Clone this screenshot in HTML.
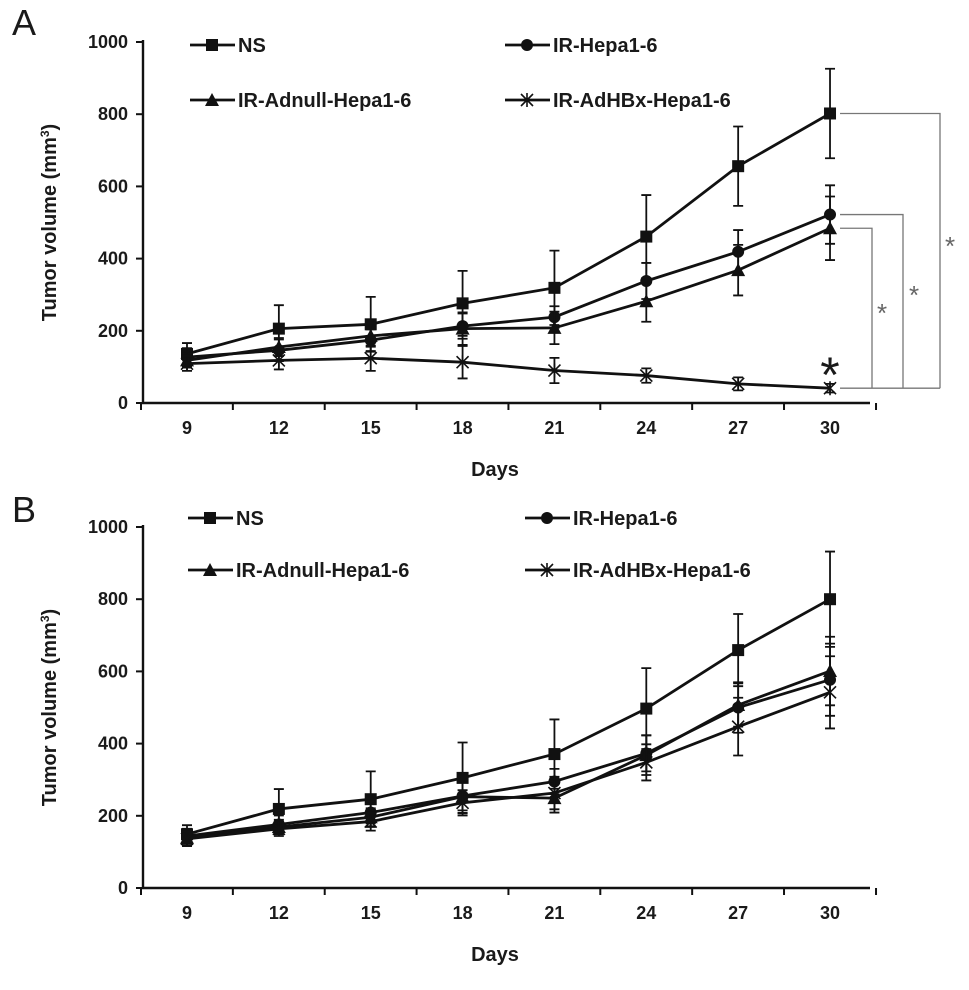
<!DOCTYPE html>
<html><head><meta charset="utf-8"><style>
body{margin:0;background:#fff;}
svg text{font-family:"Liberation Sans",sans-serif;font-weight:bold;fill:#1a1a1a;}
</style></head><body>
<svg id="c" width="969" height="985" xmlns="http://www.w3.org/2000/svg"></svg>
<script>
const days=[9,12,15,18,21,24,27,30];
const yTicks=[0,200,400,600,800,1000];
const seriesNames=["NS","IR-Hepa1-6","IR-Adnull-Hepa1-6","IR-AdHBx-Hepa1-6"];
const markers=["square","circle","triangle","star"];
const aNS=[136,206,218,276,319,461,656,802];
const aNSerr=[30,65,76,90,103,115,110,124];
const aHepa=[127,146,174,213,238,338,419,522];
const aHepaErr=[25,30,30,35,30,50,60,81];
const aAdnull=[118,155,186,206,208,282,368,484];
const aAdnullErr=[20,25,30,45,45,57,70,88];
const aHBx=[109,118,124,113,90,76,53,41];
const aHBxErr=[20,25,35,45,35,20,18,12];
const bNS=[149,219,246,305,371,497,659,800];
const bNSerr=[25,55,77,98,96,112,100,132];
const bHepa=[144,176,209,255,295,373,500,577];
const bHepaErr=[20,25,30,40,35,50,70,100];
const bAdnull=[139,169,196,253,249,368,507,601];
const bAdnullErr=[20,20,25,45,40,55,60,95];
const bHBx=[136,164,184,236,263,348,447,542];
const bHBxErr=[20,20,25,35,45,50,80,100];

const svg=document.getElementById('c');
const NS='http://www.w3.org/2000/svg';
function el(t,a,p){const e=document.createElementNS(NS,t);for(const k in a)e.setAttribute(k,a[k]);(p||svg).appendChild(e);return e;}
function marker(g,type,x,y,s){
  let m;
  if(type==="square") m=el('rect',{x:x-s,y:y-s,width:2*s,height:2*s,fill:'#111'},g);
  else if(type==="circle") m=el('circle',{cx:x,cy:y,r:s,fill:'#111'},g);
  else if(type==="triangle") m=el('polygon',{points:`${x},${y-s-1} ${x-s-1},${y+s} ${x+s+1},${y+s}`,fill:'#111'},g);
  else {m=el('path',{d:`M${x-s},${y-s}L${x+s},${y+s}M${x-s},${y+s}L${x+s},${y-s}M${x},${y-s-1}L${x},${y+s+1}`,stroke:'#111','stroke-width':1.6},g);}
  return m;
}
function panel(name,letter,letterY,y0,y1,data,errs,legendRows){
  const g=el('g',{});
  
  
  const X=d=>187+(d-9)/3*91.86;
  const Y=v=>y0-(v/1000)*(y0-y1);
  const L=el('text',{x:12,y:letterY,'font-size':36},g);L.textContent=letter;L.style.fontWeight='normal';
  
  const ax=el('path',{d:`M143,${y1-2}L143,${y0}L870,${y0}`,stroke:'#111','stroke-width':2.4,fill:'none'},g);
  
  yTicks.forEach(v=>{
    el('line',{x1:136,x2:143,y1:Y(v),y2:Y(v),stroke:'#111','stroke-width':2},g);
    const t=el('text',{x:128,y:Y(v)+6,'font-size':18,'text-anchor':'end'},g);t.textContent=v;
    
  });
  days.forEach((d,i)=>{
    const tx=X(d)-46;
    el('line',{x1:tx,x2:tx,y1:y0,y2:y0+7,stroke:'#111','stroke-width':2},g);
    const t=el('text',{x:X(d),y:y0+31,'font-size':18,'text-anchor':'middle'},g);t.textContent=d;
    
  });
  el('line',{x1:X(30)+46,x2:X(30)+46,y1:y0,y2:y0+7,stroke:'#111','stroke-width':2},g);
  const xt=el('text',{x:495,y:y0+73,'font-size':20,'text-anchor':'middle'},g);xt.textContent='Days';
  
  const yc=(y0+y1)/2;
  const yt=el('text',{x:56,y:yc,'font-size':20,'text-anchor':'middle',transform:`rotate(-90 56 ${yc})`},g);
  yt.textContent='Tumor volume (mm';
  const sup=el('tspan',{'font-size':12,dy:-7},yt);sup.textContent='3';
  const cl=el('tspan',{dy:7},yt);cl.textContent=')';
  
  data.forEach((s,si)=>{
    const sg=el('g',{},g);
    
    
    el('polyline',{points:s.map((v,i)=>X(days[i])+','+Y(v)).join(' '),fill:'none',stroke:'#111','stroke-width':2.8},sg);
    s.forEach((v,i)=>{
      const x=X(days[i]),e=errs[si][i];
      el('path',{d:`M${x},${Y(v-e)}L${x},${Y(v+e)}M${x-5},${Y(v-e)}L${x+5},${Y(v-e)}M${x-5},${Y(v+e)}L${x+5},${Y(v+e)}`,stroke:'#111','stroke-width':1.8},sg);
      const m=marker(sg,markers[si],x,Y(v),6);
      
    });
  });
  legendRows.forEach((r,si)=>{
    const lg=el('g',{},g);
    
    
    el('line',{x1:r[0],x2:r[0]+45,y1:r[1],y2:r[1],stroke:'#111','stroke-width':2.8},lg);
    marker(lg,markers[si],r[0]+22,r[1],6);
    const t=el('text',{x:r[0]+48,y:r[1]+7,'font-size':20},lg);t.textContent=seriesNames[si];
  });
  return {g,X,Y};
}
const A=panel('a','A',35,403,42,[aNS,aHepa,aAdnull,aHBx],[aNSerr,aHepaErr,aAdnullErr,aHBxErr],[[190,45],[505,45],[190,100],[505,100]]);
const B=panel('b','B',522,888,527,[bNS,bHepa,bAdnull,bHBx],[bNSerr,bHepaErr,bAdnullErr,bHBxErr],[[188,518],[525,518],[188,570],[525,570]]);
const br=el('g',{});


const xe=A.X(30)+10, yb=A.Y(aHBx[7]);
[[aNS[7],940],[aHepa[7],903],[aAdnull[7],872]].forEach(p=>{
  el('path',{d:`M${xe},${A.Y(p[0])}L${p[1]},${A.Y(p[0])}L${p[1]},${yb}`,stroke:'#777','stroke-width':1.3,fill:'none'},br);
});
el('line',{x1:xe,x2:940,y1:yb,y2:yb,stroke:'#777','stroke-width':1.3},br);
[[882,322],[914,304],[950,255]].forEach(p=>{const t=el('text',{x:p[0],y:p[1],'font-size':26,'text-anchor':'middle'},br);t.textContent='*';t.style.fill='#666';t.style.fontWeight='normal';});
const bs=el('text',{x:A.X(30),y:392,'font-size':50,'text-anchor':'middle'},br);bs.textContent='*';bs.style.fontWeight='normal';

</script>
</body></html>
